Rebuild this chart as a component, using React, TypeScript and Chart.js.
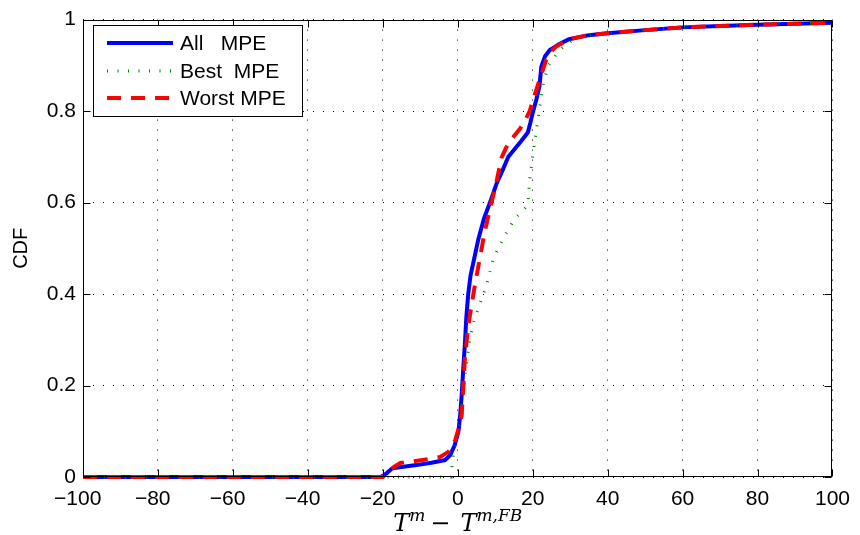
import { useEffect, useRef } from "react";
import { Chart, registerables } from "chart.js";

Chart.register(...registerables);

// ---- data ----
const seriesLabels = ["All   MPE", "Best  MPE", "Worst MPE"];
const seriesColors = ["#0000FF", "#008000", "#FF0000"];

const xTickValues = [-100, -80, -60, -40, -20, 0, 20, 40, 60, 80, 100];
const yTickValues = [0, 0.2, 0.4, 0.6, 0.8, 1];

const allX = [-100, -20.5, -19, -17.5, -14, -11, -7, -3.4, -2, -0.8, 0.2, 0.7, 1.06, 1.5, 1.9, 2.3, 2.8, 3.4, 4.2, 5.5, 7, 8.6, 10.3, 12.1, 13.5, 15.2, 17, 18.7, 19.4, 20.0, 21, 21.8, 22.3, 23.3, 24.5, 27, 29.7, 35, 40, 50, 60, 70, 80, 90, 100];
const allY = [0, 0, 0.008, 0.019, 0.023, 0.026, 0.031, 0.037, 0.048, 0.07, 0.1, 0.14, 0.18, 0.24, 0.29, 0.35, 0.4, 0.44, 0.47, 0.52, 0.565, 0.6, 0.64, 0.673, 0.7, 0.717, 0.735, 0.753, 0.775, 0.796, 0.826, 0.854, 0.897, 0.92, 0.933, 0.946, 0.957, 0.966, 0.97, 0.977, 0.983, 0.986, 0.989, 0.991, 0.993];

const bestX = [-100, -1.8, -1.1, -0.3, 0.6, 1.2, 1.9, 2.5, 3.3, 4.3, 5.5, 7.7, 9.5, 12.1, 15.2, 18.7, 19.2, 20.0, 20.9, 21.8, 22.7, 24.0, 27.1, 30.6, 35, 40, 50, 60, 70, 80, 90, 100];
const bestY = [0, 0, 0.059, 0.085, 0.116, 0.16, 0.218, 0.26, 0.304, 0.34, 0.369, 0.42, 0.478, 0.521, 0.565, 0.594, 0.651, 0.702, 0.753, 0.804, 0.854, 0.897, 0.933, 0.955, 0.966, 0.97, 0.977, 0.983, 0.986, 0.989, 0.991, 0.993];

const worstX = [-100, -20, -18.5, -17, -15.3, -12, -8, -4.7, -2.5, -0.7, 0.2, 1.06, 1.5, 1.9, 2.8, 3.7, 4.8, 5.9, 7.2, 8.6, 10.3, 11.7, 13.2, 14.7, 16.5, 18, 19.2, 20.3, 21.4, 22.5, 23.6, 24.8, 26.2, 29.7, 35, 40, 50, 60, 70, 80, 90, 100];
const worstY = [0, 0, 0.01, 0.022, 0.031, 0.034, 0.039, 0.044, 0.055, 0.08, 0.105, 0.135, 0.2, 0.26, 0.33, 0.377, 0.43, 0.478, 0.536, 0.586, 0.644, 0.698, 0.725, 0.742, 0.76, 0.78, 0.8, 0.83, 0.857, 0.885, 0.912, 0.93, 0.941, 0.957, 0.966, 0.97, 0.977, 0.983, 0.986, 0.989, 0.991, 0.993];

const toPoints = (xs: number[], ys: number[]) => xs.map((x, i) => ({ x, y: ys[i] }));

const SANS = "'Liberation Sans', Arial, Helvetica, sans-serif";
const SERIF = "'DejaVu Serif', serif";

const framePlugin = {
  id: "frame",
  afterDatasetsDraw(chart: any) {
    const { ctx, chartArea: a, scales } = chart;
    const xs = scales.x;
    const ys = scales.y;
    const L = Math.round(a.left) + 0.5;
    const R = Math.round(a.right) - 0.5;
    const T = Math.round(a.top) + 0.5;
    const B = Math.round(a.bottom) - 0.5;
    ctx.save();
    ctx.strokeStyle = "#000";
    ctx.lineWidth = 1;
    ctx.setLineDash([]);
    const tl = 7;
    ctx.beginPath();
    xTickValues.forEach((v) => {
      const p = Math.round(xs.getPixelForValue(v)) + 0.5;
      ctx.moveTo(p, B);
      ctx.lineTo(p, B - tl);
      ctx.moveTo(p, T);
      ctx.lineTo(p, T + tl);
    });
    yTickValues.forEach((v) => {
      const p = Math.round(ys.getPixelForValue(v)) + 0.5;
      ctx.moveTo(L, p);
      ctx.lineTo(L + tl, p);
      ctx.moveTo(R, p);
      ctx.lineTo(R - tl, p);
    });
    ctx.stroke();
    ctx.strokeRect(L, T, R - L, B - T);
    ctx.restore();
  },
  afterDraw(chart: any) {
    const { ctx, chartArea: a } = chart;
    ctx.save();
    // legend
    const bx = 93.5, by = 25.5, bw = 209, bh = 91;
    ctx.fillStyle = "#fff";
    ctx.fillRect(bx, by, bw, bh);
    ctx.strokeStyle = "#000";
    ctx.lineWidth = 1;
    ctx.setLineDash([]);
    ctx.strokeRect(bx, by, bw, bh);
    const rows = [43, 71, 98];
    chart.data.datasets.forEach((ds: any, i: number) => {
      const yy = rows[i];
      ctx.save();
      ctx.strokeStyle = ds.borderColor;
      ctx.lineWidth = ds.borderWidth;
      ctx.setLineDash(ds.borderDash || []);
      ctx.lineCap = "butt";
      ctx.beginPath();
      ctx.moveTo(107, yy);
      ctx.lineTo(173, yy);
      ctx.stroke();
      ctx.restore();
      ctx.fillStyle = "#000";
      ctx.font = `21px ${SANS}`;
      ctx.textBaseline = "middle";
      ctx.textAlign = "left";
      ctx.fillText(ds.label, 180, yy + 1);
    });
    // x-axis title: T^m − T^{m,FB}
    const big = `italic 24px ${SERIF}`;
    const small = `italic 17px ${SERIF}`;
    const upright = `24px ${SERIF}`;
    const pieces = [
      { t: "T", f: big, dy: 0, gap: 0 },
      { t: "m", f: small, dy: -10, gap: 0 },
      { t: "\u2212", f: upright, dy: 0, gap: 5 },
      { t: "T", f: big, dy: 0, gap: 10 },
      { t: "m,FB", f: small, dy: -10, gap: 0 },
    ];
    let total = 0;
    const widths = pieces.map((p) => {
      ctx.font = p.f;
      const w = ctx.measureText(p.t).width;
      total += w + p.gap;
      return w;
    });
    let cx = (a.left + a.right) / 2 - total / 2;
    const base = 531;
    ctx.fillStyle = "#000";
    ctx.textBaseline = "alphabetic";
    ctx.textAlign = "left";
    pieces.forEach((p, i) => {
      cx += p.gap;
      ctx.font = p.f;
      ctx.fillText(p.t, cx, base + p.dy);
      cx += widths[i];
    });
    ctx.restore();
  },
};

export default function App() {
  const ref = useRef<HTMLCanvasElement>(null);
  useEffect(() => {
    if (!ref.current) return;
    const chart = new Chart(ref.current, {
      type: "line",
      data: {
        datasets: [
          {
            label: seriesLabels[0],
            data: toPoints(allX, allY),
            borderColor: seriesColors[0],
            borderWidth: 4,
            pointRadius: 0,
            tension: 0,
            clip: false,
            order: 3,
          },
          {
            label: seriesLabels[1],
            data: toPoints(bestX, bestY),
            borderColor: seriesColors[1],
            borderWidth: 3,
            borderDash: [1, 9.5],
            pointRadius: 0,
            tension: 0,
            clip: false,
            order: 2,
          },
          {
            label: seriesLabels[2],
            data: toPoints(worstX, worstY),
            borderColor: seriesColors[2],
            borderWidth: 4,
            borderDash: [14, 10],
            pointRadius: 0,
            tension: 0,
            clip: false,
            order: 1,
          },
        ],
      },
      options: {
        animation: false,
        responsive: false,
        events: [],
        layout: { padding: { top: 15, right: 22, bottom: 0, left: 0 } },
        plugins: { legend: { display: false }, tooltip: { enabled: false } },
        scales: {
          x: {
            type: "linear",
            min: -100,
            max: 100,
            afterFit: (s: any) => {
              s.height = 58;
            },
            afterBuildTicks: (s: any) => {
              s.ticks = xTickValues.map((v) => ({ value: v }));
            },
            ticks: {
              autoSkip: false,
              maxRotation: 0,
              padding: 10,
              color: "#000",
              font: { family: SANS, size: 21 },
              callback: (v: any) => (v < 0 ? "\u2212" + Math.abs(v) + "\u2002" : String(v)),
            },
            grid: { color: "#000", lineWidth: 1, drawTicks: false },
            border: { display: false, dash: [1, 9] },
          },
          y: {
            type: "linear",
            min: 0,
            max: 1,
            afterFit: (s: any) => {
              s.width = 83;
            },
            afterBuildTicks: (s: any) => {
              s.ticks = yTickValues.map((v) => ({ value: v }));
            },
            ticks: {
              padding: 7,
              color: "#000",
              font: { family: SANS, size: 21 },
              callback: (v: any) => String(Math.round(v * 10) / 10),
            },
            grid: { color: "#000", lineWidth: 1, drawTicks: false },
            border: { display: false, dash: [1, 9] },
            title: {
              display: true,
              text: "CDF",
              color: "#000",
              font: { family: SANS, size: 20 },
              padding: { top: 9, bottom: 0 },
            },
          },
        },
      },
      plugins: [framePlugin],
    } as any);
    return () => chart.destroy();
  }, []);
  return (
    <div style={{ position: "fixed", left: 0, top: 0, width: 860, height: 535, background: "#fff" }}>
      <canvas ref={ref} width={860} height={535} style={{ display: "block" }} />
    </div>
  );
}
